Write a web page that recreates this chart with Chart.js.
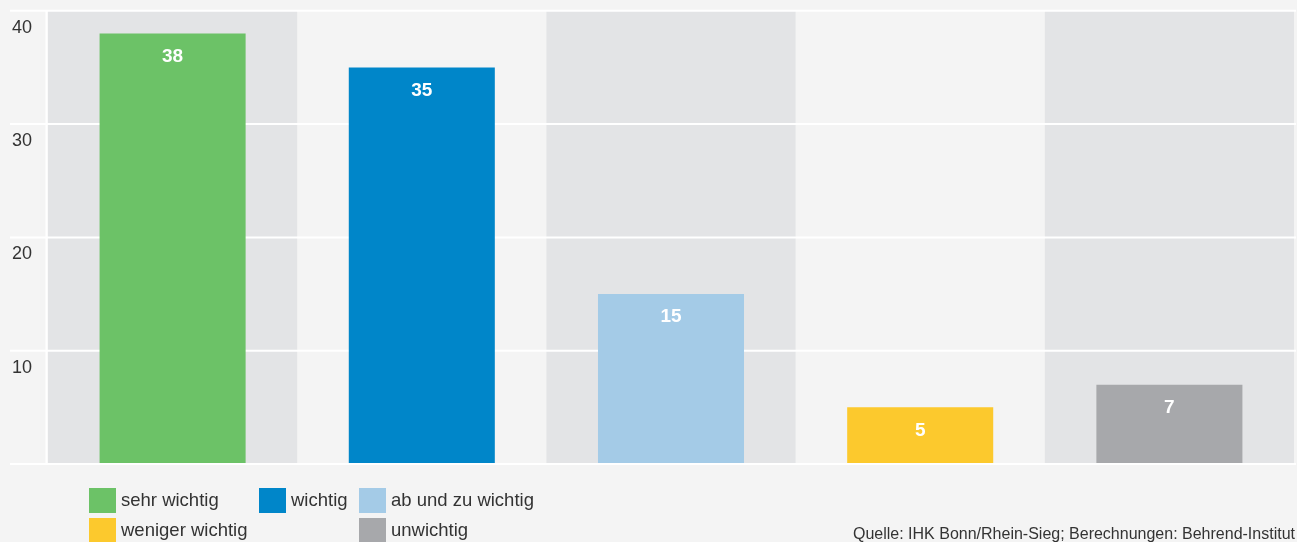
<!DOCTYPE html>
<html>
<head>
<meta charset="utf-8">
<script src="https://cdn.jsdelivr.net/npm/chart.js@4/dist/chart.umd.min.js"></script>
<style>
  html, body { margin: 0; padding: 0; background: #f4f4f4; }
  #wrap { width: 1297px; height: 542px; position: relative; }
</style>
</head>
<body>
<div id="wrap"><canvas id="wichtigkeit"></canvas></div>
<script>
// Werte in Prozent
const categories = ['sehr wichtig', 'wichtig', 'ab und zu wichtig', 'weniger wichtig', 'unwichtig'];
const values = [38, 35, 15, 5, 7];
const barColors = ['#6cc267', '#0086c9', '#a4cbe7', '#fcc92d', '#a7a8ab'];
const yTicks = [0, 10, 20, 30, 40];
const source = 'Quelle: IHK Bonn/Rhein-Sieg; Berechnungen: Behrend-Institut';

const FONT = '"Liberation Sans", Arial, sans-serif';
const bandColor = '#e3e4e6';

// Legende: Spalte/Zeile je Eintrag
const legendSlots = [[89, 488], [259, 488], [359, 488], [89, 518], [359, 518]];

var ctx = document.querySelector('#wichtigkeit');

// Hintergrundstreifen + weisse Rasterlinien
const bandsPlugin = {
    id: 'bands',
    beforeDatasetsDraw(chart) {
        const c = chart.ctx;
        const area = chart.chartArea;
        const x = chart.scales.x;
        const y = chart.scales.y;
        const step = (area.right - area.left) / categories.length;
        c.save();
        categories.forEach((cat, i) => {
            if (i % 2 === 0) {
                c.fillStyle = bandColor;
                c.fillRect(x.getPixelForValue(i) - step / 2, area.top, step, area.bottom - area.top);
            }
        });
        c.strokeStyle = '#ffffff';
        c.lineWidth = 2;
        yTicks.forEach(t => {
            if (t === 0) return;
            const py = y.getPixelForValue(t);
            c.beginPath();
            c.moveTo(10, py);
            c.lineTo(area.right + 2, py);
            c.stroke();
        });
        c.beginPath();
        c.moveTo(area.left - 1.5, area.top);
        c.lineTo(area.left - 1.5, area.bottom);
        c.stroke();
        c.restore();
    },
    afterDatasetsDraw(chart) {
        const c = chart.ctx;
        const area = chart.chartArea;
        const py = chart.scales.y.getPixelForValue(0);
        c.save();
        c.strokeStyle = '#ffffff';
        c.lineWidth = 2;
        c.beginPath();
        c.moveTo(10, py);
        c.lineTo(area.right + 2, py);
        c.stroke();

        // Werte in den Balken
        const meta = chart.getDatasetMeta(0);
        c.fillStyle = '#ffffff';
        c.font = 'bold 19px ' + FONT;
        c.textAlign = 'center';
        c.textBaseline = 'middle';
        meta.data.forEach((bar, i) => {
            c.fillText(String(values[i]), bar.x, bar.y + 23);
        });

        // Legende
        c.font = '18.5px ' + FONT;
        c.textAlign = 'left';
        categories.forEach((cat, i) => {
            const [lx, ly] = legendSlots[i];
            c.fillStyle = barColors[i];
            c.fillRect(lx, ly, 27, 25);
            c.fillStyle = '#333333';
            c.fillText(cat, lx + 32, ly + 13);
        });

        // Quelle
        c.font = '16px ' + FONT;
        c.textAlign = 'right';
        c.textBaseline = 'alphabetic';
        c.fillText(source, 1295, 539);
        c.restore();
    }
};

new Chart(ctx, {
    type: 'bar',
    data: {
        labels: categories,
        datasets: [{
            label: 'Anteil',
            data: values,
            backgroundColor: barColors,
            borderWidth: 0,
            categoryPercentage: 1,
            barPercentage: 0.586
        }]
    },
    options: {
        responsive: true,
        maintainAspectRatio: false,
        animation: false,
        layout: {
            padding: { left: 12, right: 3, top: 10, bottom: 78 }
        },
        plugins: {
            legend: { display: false },
            tooltip: { enabled: false }
        },
        scales: {
            x: {
                display: false
            },
            y: {
                min: 0,
                max: 40,
                afterFit(scale) { scale.width = 36; },
                afterBuildTicks(scale) { scale.ticks = yTicks.map(v => ({ value: v })); },
                grid: { display: false },
                border: { display: false },
                ticks: {
                    crossAlign: 'far',
                    labelOffset: 17,
                    padding: 0,
                    color: '#333333',
                    font: { family: FONT, size: 18 },
                    callback: v => (v === 0 ? '' : v)
                }
            }
        }
    },
    plugins: [bandsPlugin]
});
</script>
</body>
</html>
